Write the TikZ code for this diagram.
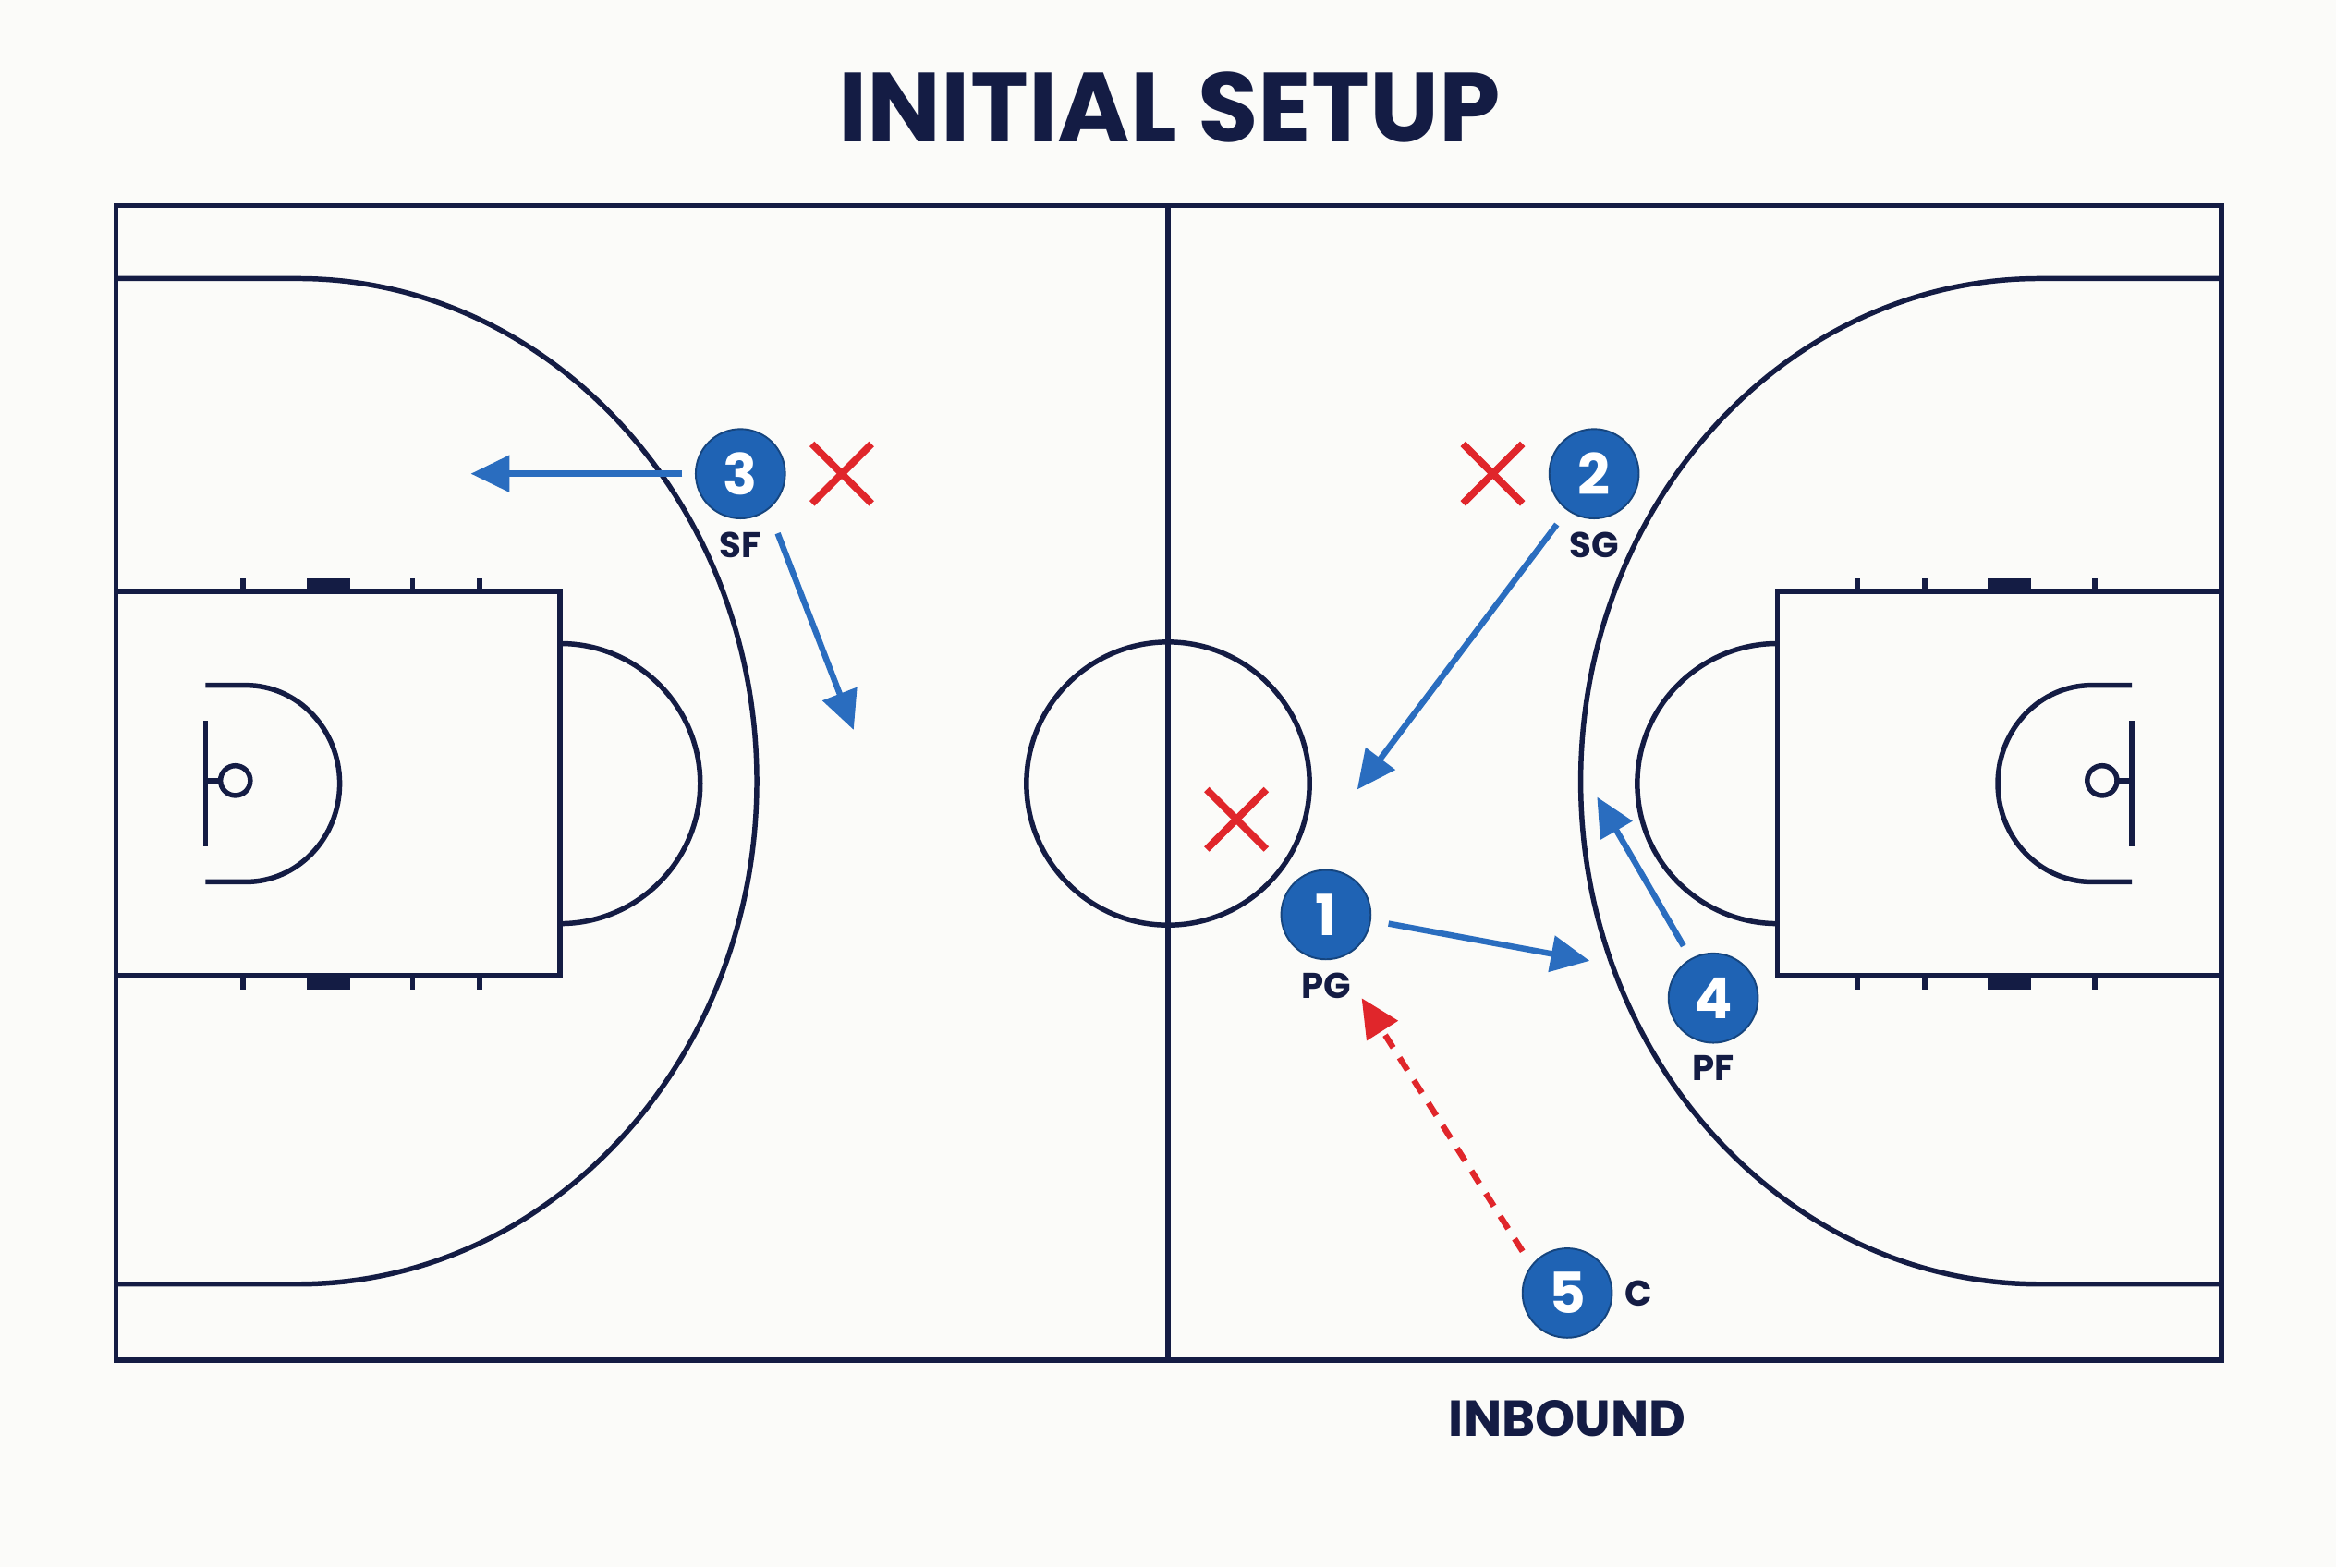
\documentclass[tikz,border=0pt]{standalone}
\usepackage{fontspec}
\setmainfont{Poppins}[BoldFont={* Bold}]
\usetikzlibrary{arrows.meta}
\definecolor{navy}{HTML}{141C44}
\definecolor{pblue}{HTML}{1F63B4}
\definecolor{ablue}{HTML}{2A6DBF}
\definecolor{xred}{HTML}{E0262B}
\definecolor{bg}{HTML}{FBFBF9}
\begin{document}
\begin{tikzpicture}[x=0.5pt,y=-0.5pt,
  court/.style={draw=navy,line width=1.7pt},
  player/.style={circle,fill=pblue,draw=pblue!70!black,line width=0.6pt,minimum size=30pt,inner sep=0pt,text=white,font=\bfseries\fontsize{19}{19}\selectfont},
  plab/.style={text=navy,font=\bfseries\fontsize{12}{12}\selectfont},
  mv/.style={draw=ablue,line width=2pt,-{Triangle[length=13pt,width=12pt]}},
  pass/.style={draw=xred,line width=2pt,dash pattern=on 5pt off 4pt,-{Triangle[length=13pt,width=12pt]}},
  xm/.style={draw=xred,line width=2.4pt}]
\fill[bg] (0,0) rectangle (1568,1052);
\useasboundingbox (0,0) rectangle (1568,1052);
\node[text=navy,font=\bfseries\fontsize{33}{33}\selectfont] (title) at (785,72) {INITIAL SETUP};
\node[text=navy,font=\bfseries\fontsize{17}{17}\selectfont] (inb) at (1052,952) {INBOUND};
% court
\draw[court] (78,138) rectangle (1491,913);
\draw[court] (784,138) -- (784,913);
\draw[court] (784,526) circle (95);
\foreach \s/\o in {1/0,-1/1569}{
\begin{scope}[xshift=\o*0.5pt,xscale=\s]
\draw[court] (78,187) -- (200,187) arc[start angle=-90,end angle=90,x radius=308,y radius=337.5] -- (78,862);
\draw[court] (78,397) rectangle (376,655);
\draw[court] (376,432) arc[start angle=-90,end angle=90,radius=94];
\draw[court] (138,484) -- (138,568);
\draw[court] (158,524) circle (10);
\draw[court] (148,524) -- (138,524);
\draw[court] (138,460) -- (165,460) arc[start angle=-90,end angle=90,x radius=63,y radius=66] -- (138,592);
\foreach \tx in {163,277,322}{\draw[court] (\tx,397) -- (\tx,388); \draw[court] (\tx,655) -- (\tx,664);}
\fill[navy] (206,388) rectangle (235,397);
\fill[navy] (206,655) rectangle (235,664);
\end{scope}}
% players
\node[player] (p3) at (497,318) {3};
\node[plab] (l3) at (497,366) {SF};
\node[player] (p2) at (1070,318) {2};
\node[plab] (l2) at (1070,366) {SG};
\node[player] (p1) at (890,614) {1};
\node[plab] (l1) at (890,662) {PG};
\node[player] (p4) at (1150,670) {4};
\node[plab] (l4) at (1150,717) {PF};
\node[player] (p5) at (1052,868) {5};
\node[plab] (l5) at (1100,868) {C};
% defenders
\foreach \n/\cx/\cy in {a/565/318,b/1002/318,c/830/550}{
\coordinate (x\n) at (\cx,\cy);
\draw[xm] ([shift={(-20,-20)}]x\n) -- ([shift={(20,20)}]x\n);
\draw[xm] ([shift={(-20,20)}]x\n) -- ([shift={(20,-20)}]x\n);}
% movements
\coordinate (a1s) at (458,318); \coordinate (a1e) at (316,318);
\coordinate (a2s) at (522,358); \coordinate (a2e) at (573,490);
\coordinate (a3s) at (1045,352); \coordinate (a3e) at (911,530);
\coordinate (a4s) at (932,620); \coordinate (a4e) at (1067,645);
\coordinate (a5s) at (1130,635); \coordinate (a5e) at (1072,535);
\coordinate (a6s) at (1022,840); \coordinate (a6e) at (914,670);
\draw[mv] (a1s) -- (a1e);
\draw[mv] (a2s) -- (a2e);
\draw[mv] (a3s) -- (a3e);
\draw[mv] (a4s) -- (a4e);
\draw[mv] (a5s) -- (a5e);
\draw[pass] (a6s) -- (a6e);
\end{tikzpicture}
\end{document}
